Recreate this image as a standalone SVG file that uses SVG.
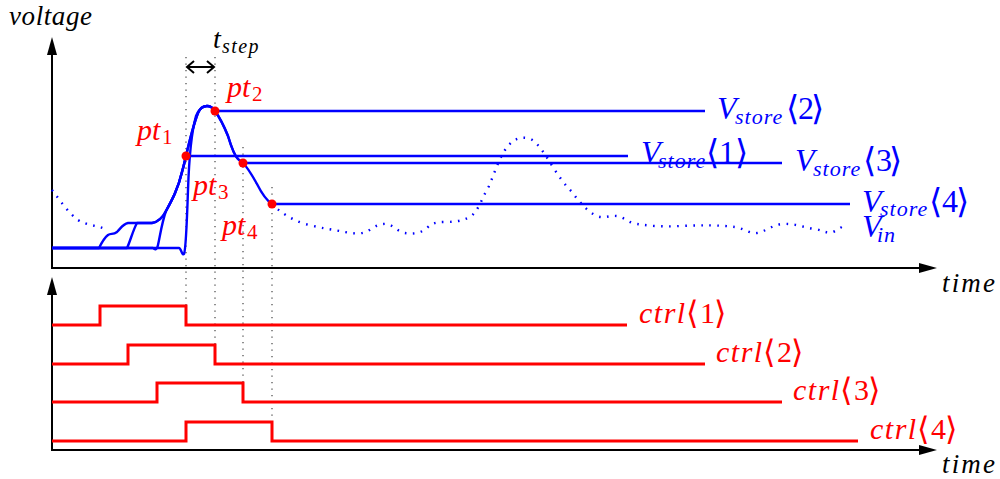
<svg xmlns="http://www.w3.org/2000/svg" width="1000" height="479" viewBox="0 0 1000 479">
<style>
.ax{stroke:#000;stroke-width:2;fill:none}
.bl{stroke:#0000ff;stroke-width:2.4;fill:none;stroke-linejoin:round}
.vin{stroke:#0000ff;stroke-width:2.4;fill:none;stroke-dasharray:1.6 6.4;stroke-linecap:butt}
.rd{stroke:#ff0000;stroke-width:3;fill:none}
.gd{stroke:#444;stroke-width:1.2;stroke-dasharray:1.2 5.3}
.dot{fill:#ff0000}
.m{font-family:"Liberation Serif",serif;font-style:italic;fill:#000}
.r{font-family:"Liberation Serif",serif;font-style:normal}
.br{font-family:"DejaVu Serif","DejaVu Sans",serif;font-style:normal}
.bv{font-size:34px}
.bc{font-size:32px}
.tb{fill:#0000ff}
.tr{fill:#ff0000}
</style>
<defs>
<marker id="ah" markerUnits="userSpaceOnUse" markerWidth="20" markerHeight="12" refX="0" refY="6" orient="auto" overflow="visible">
<path d="M0,1 L18,6 L0,11 z" fill="#000"/>
</marker>
</defs>

<g id="axes">
<line class="ax" x1="52" y1="268" x2="52" y2="55" marker-end="url(#ah)"/>
<line class="ax" x1="51" y1="268" x2="919" y2="268" marker-end="url(#ah)"/>
<line class="ax" x1="52" y1="450" x2="52" y2="295" marker-end="url(#ah)"/>
<line class="ax" x1="51" y1="450" x2="919" y2="450" marker-end="url(#ah)"/>
<text class="m" x="9" y="25" font-size="27" textLength="83" lengthAdjust="spacing">voltage</text>
<text class="m" x="942" y="292" font-size="27" textLength="53" lengthAdjust="spacing">time</text>
<text class="m" x="942" y="473" font-size="27" textLength="53" lengthAdjust="spacing">time</text>
</g>

<g id="guides">
<line class="gd" x1="186" y1="57" x2="186" y2="306"/>
<line class="gd" x1="215" y1="57" x2="215" y2="345"/>
<line class="gd" x1="243" y1="147" x2="243" y2="383"/>
<line class="gd" x1="272" y1="187" x2="272" y2="422"/>
</g>

<g id="tstep">
<path class="ax" d="M187,67 H214 M194,61 L187,67 L194,73 M207,61 L214,67 L207,73"/>
<text class="m" x="213" y="48" font-size="28">t<tspan x="222" dy="5" font-size="20" letter-spacing="1.4">step</tspan></text>
</g>

<g id="vin">
<path class="vin" d="M52,190 C60,200 68,213 78,220 C88,226 96,225 105,229"/>
<path class="vin" d="M272,204 C280,212 290,219 305,224 C320,228 335,230 345,232 C355,234 362,234 368,231 C374,227 380,223 387,224 C393,225 398,232 405,233 C412,234 420,234 427,228 C432,223 436,222 445,222 C455,222 462,221 470,217 C478,212 482,198 489,186 C495,172 500,155 508,146 C514,139 520,137 527,138 C534,139 538,145 544,153 C552,165 560,180 572,192 C580,203 588,212 597,216 C604,219 610,215 617,216 C624,217 628,223 637,224 C650,226 665,227 680,226 C700,225 720,225 735,227 C745,229 750,234 757,233 C765,232 772,225 782,224 C795,223 805,228 815,229 C822,230 827,234 833,232 C838,230 842,226 847,225"/>
<text class="m tb" x="862" y="237" font-size="32">V<tspan x="877" dy="5" font-size="22" letter-spacing="1">in</tspan></text>
</g>

<g id="traces">
<path class="bl" d="M52,248 L99,248 C101,244 104,238 108,235 C111,233 113,235 117,232 C121,228 123,224 128,223 L152,223 C158,222 162,219 166,211 C172,200 178,189 182,172 C184,165 185,160 186,156 H628"/>
<path class="bl" d="M52,248 L127,248 C130,242 133,230 137,223 L152,223 C158,222 162,219 166,211 C172,200 178,189 182,172 C184,165 185,160 186,156 C189,143 193,126 198,113 C200,108 203,106 207,106 C211,106 213,108 215,111 H705"/>
<path class="bl" d="M52,248 L153,248 C155,250 157,250 158,245 C160,236 162,222 166,211 C172,200 178,189 182,172 C184,165 185,160 186,156 C189,143 193,126 198,113 C200,108 203,106 207,106 C211,106 213,108 215,111 C220,118 224,126 228,136 C231,146 234,155 238,159 C240,161 242,162 243,163 H782"/>
<path class="bl" d="M52,248 L179,248 C181,248 182,256 184,254 C186,250 187,220 188,190 C189,160 192,130 196,116 C199,109 202,106 207,106 C211,106 213,108 215,111 C220,118 224,126 228,136 C231,146 234,155 238,159 C240,161 242,162 243,163 C248,168 252,175 257,184 C262,194 266,200 272,204 H850"/>
</g>

<g id="points">
<circle class="dot" cx="186" cy="156" r="4.5"/>
<circle class="dot" cx="215" cy="111" r="4.5"/>
<circle class="dot" cx="243" cy="163" r="4.5"/>
<circle class="dot" cx="272" cy="204" r="4.5"/>
<text class="m tr" x="137" y="140" font-size="30">pt<tspan class="r" x="162" dy="4" font-size="21">1</tspan></text>
<text class="m tr" x="227" y="97" font-size="30">pt<tspan class="r" x="252" dy="4" font-size="21">2</tspan></text>
<text class="m tr" x="193" y="195" font-size="30">pt<tspan class="r" x="218" dy="4" font-size="21">3</tspan></text>
<text class="m tr" x="222" y="235" font-size="30">pt<tspan class="r" x="247" dy="4" font-size="21">4</tspan></text>
</g>

<g id="vstore-labels">
<text class="m tb" x="717" y="119" font-size="32">V<tspan x="735" dy="5" font-size="22" letter-spacing="1">store</tspan><tspan class="br bv" x="786" dy="-4">⟨</tspan><tspan class="r" x="798" dy="-1">2</tspan><tspan class="br bv" x="811" dy="1">⟩</tspan></text>
<text class="m tb" x="641" y="163" font-size="32">V<tspan x="658" dy="5" font-size="22" letter-spacing="1">store</tspan><tspan class="br bv" x="706" dy="-4">⟨</tspan><tspan class="r" x="719" dy="-1">1</tspan><tspan class="br bv" x="735" dy="1">⟩</tspan></text>
<text class="m tb" x="795" y="171" font-size="32">V<tspan x="813" dy="5" font-size="22" letter-spacing="1">store</tspan><tspan class="br bv" x="863" dy="-4">⟨</tspan><tspan class="r" x="876" dy="-1">3</tspan><tspan class="br bv" x="889" dy="1">⟩</tspan></text>
<text class="m tb" x="862" y="212" font-size="32">V<tspan x="880" dy="4" font-size="22" letter-spacing="1">store</tspan><tspan class="br bv" x="929" dy="-3">⟨</tspan><tspan class="r" x="942" dy="-1">4</tspan><tspan class="br bv" x="956" dy="1">⟩</tspan></text>
</g>

<g id="ctrl">
<path class="rd" d="M52,325 H100 V306 H186 V325 H627"/>
<path class="rd" d="M52,364 H128 V345 H215 V364 H705"/>
<path class="rd" d="M52,402 H157 V383 H243 V402 H782"/>
<path class="rd" d="M52,441 H186 V422 H272 V441 H858"/>
<text class="m tr" x="639" y="323" font-size="30"><tspan letter-spacing="1.5">ctrl</tspan><tspan class="br bc" x="686" dy="1">⟨</tspan><tspan class="r" x="700" dy="-1">1</tspan><tspan class="br bc" x="714" dy="1">⟩</tspan></text>
<text class="m tr" x="716" y="362" font-size="30"><tspan letter-spacing="1.5">ctrl</tspan><tspan class="br bc" x="763" dy="1">⟨</tspan><tspan class="r" x="777" dy="-1">2</tspan><tspan class="br bc" x="791" dy="1">⟩</tspan></text>
<text class="m tr" x="793" y="400" font-size="30"><tspan letter-spacing="1.5">ctrl</tspan><tspan class="br bc" x="840" dy="1">⟨</tspan><tspan class="r" x="854" dy="-1">3</tspan><tspan class="br bc" x="868" dy="1">⟩</tspan></text>
<text class="m tr" x="870" y="439" font-size="30"><tspan letter-spacing="1.5">ctrl</tspan><tspan class="br bc" x="917" dy="1">⟨</tspan><tspan class="r" x="931" dy="-1">4</tspan><tspan class="br bc" x="945" dy="1">⟩</tspan></text>
</g>
</svg>
